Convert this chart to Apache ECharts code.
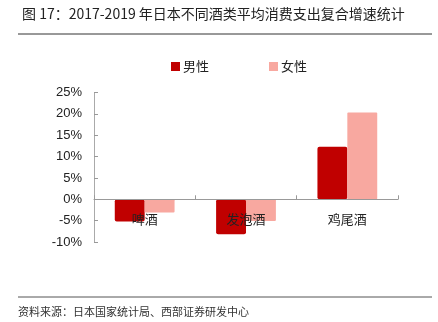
<!DOCTYPE html>
<html><head><meta charset="utf-8">
<script src="https://cdn.jsdelivr.net/npm/echarts@6/dist/echarts.min.js"></script>
<style>html,body{margin:0;padding:0;background:#fff}#c{width:438px;height:322px}</style>
</head><body><div id="c"></div>
<script>
const titleText = '图 17：2017-2019 年日本不同酒类平均消费支出复合增速统计';
const sourceText = '资料来源：日本国家统计局、西部证券研发中心';
const categories = ['啤酒', '发泡酒', '鸡尾酒'];
const seriesNames = ['男性', '女性'];
const maleValues = [-5.2, -8.2, 12.3];
const femaleValues = [-3.1, -5.1, 20.3];
const yTicks = [-10, -5, 0, 5, 10, 15, 20, 25];

const chart = echarts.init(document.getElementById('c'));
const cjk = '"Noto Sans CJK SC", sans-serif';
chart.setOption({
  animation: false,
  title: {
    text: titleText, left: 17, top: 2,
    textStyle: {fontSize: 14, fontWeight: 'normal', color: '#222', fontFamily: cjk}
  },
  graphic: [
    {type: 'line', shape: {x1: 18, y1: 34, x2: 432, y2: 34}, style: {stroke: '#333', lineWidth: 1}},
    {type: 'line', shape: {x1: 18, y1: 297, x2: 432, y2: 297}, style: {stroke: '#555', lineWidth: 1}},
    {type: 'text', left: 18, top: 306, style: {text: sourceText, fontSize: 11, fill: '#333', fontFamily: cjk}}
  ],
  legend: {
    data: seriesNames, top: 55, left: 166, itemGap: 60,
    icon: 'rect', itemWidth: 9, itemHeight: 9,
    textStyle: {fontSize: 13, color: '#222', fontFamily: cjk, padding: [0, 0, 0, -2]}
  },
  grid: {left: 94, right: 40, top: 92.5, bottom: 80, containLabel: false},
  xAxis: {
    type: 'category', data: categories, z: 10,
    axisLine: {onZero: true, lineStyle: {color: '#999'}},
    axisTick: {show: true, inside: true, length: 4, alignWithLabel: false, lineStyle: {color: '#999'}},
    axisLabel: {margin: -29, fontSize: 13, color: '#222', fontFamily: cjk}
  },
  yAxis: {
    type: 'value', min: yTicks[0], max: yTicks[yTicks.length - 1], interval: 5,
    axisLine: {show: true, lineStyle: {color: '#aaa'}},
    axisTick: {show: true, inside: true, length: 4, lineStyle: {color: '#999'}},
    splitLine: {show: false},
    axisLabel: {formatter: '{value}%', margin: 12, fontSize: 13, color: '#222', fontFamily: 'Liberation Sans, Arial, sans-serif'}
  },
  series: [
    {name: seriesNames[0], type: 'bar', data: maleValues, barGap: '0%', barCategoryGap: '41%',
     itemStyle: {color: '#C00000', borderRadius: 2}},
    {name: seriesNames[1], type: 'bar', data: femaleValues, barGap: '0%', barCategoryGap: '41%',
     itemStyle: {color: '#F8A8A0', borderRadius: 1}}
  ]
});
</script></body></html>
